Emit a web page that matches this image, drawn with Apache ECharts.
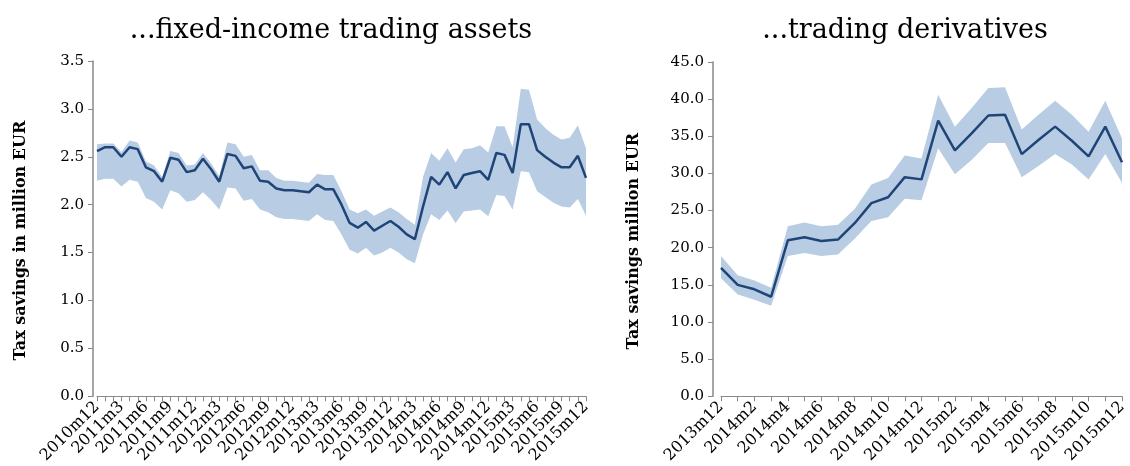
<!DOCTYPE html>
<html>
<head>
<meta charset="utf-8">
<script src="https://cdn.jsdelivr.net/npm/echarts@6/dist/echarts.min.js"></script>
<style>
  html, body { margin: 0; padding: 0; background: #fff; }
  #main { width: 1130px; height: 466px; }
</style>
</head>
<body>
<div id="main"></div>
<script>
// left panel: fixed-income trading assets, 2010m12 - 2015m12
const monthsA = [];
for (let y = 2010, m = 12; y < 2016; ) {
  monthsA.push(y + 'm' + m);
  if (y === 2015 && m === 12) break;
  m++; if (m > 12) { m = 1; y++; }
}
const estA = [2.56, 2.60, 2.60, 2.50, 2.60, 2.58, 2.39, 2.35, 2.24, 2.49, 2.47, 2.34, 2.36,
  2.48, 2.37, 2.24, 2.53, 2.51, 2.38, 2.40, 2.25, 2.24, 2.17, 2.15, 2.15, 2.14, 2.13,
  2.21, 2.16, 2.16, 2.00, 1.81, 1.76, 1.82, 1.73, 1.78, 1.83, 1.77, 1.69, 1.64, 1.98,
  2.29, 2.21, 2.34, 2.17, 2.31, 2.33, 2.35, 2.26, 2.54, 2.52, 2.33, 2.84, 2.84, 2.57,
  2.50, 2.44, 2.39, 2.39, 2.51, 2.28];
const upA = [2.63, 2.64, 2.64, 2.55, 2.67, 2.65, 2.45, 2.41, 2.29, 2.56, 2.54, 2.41, 2.42,
  2.54, 2.43, 2.30, 2.65, 2.63, 2.50, 2.52, 2.36, 2.36, 2.28, 2.25, 2.25, 2.24, 2.23,
  2.32, 2.31, 2.31, 2.14, 1.95, 1.91, 1.95, 1.885, 1.93, 1.97, 1.92, 1.85, 1.79, 2.29,
  2.54, 2.46, 2.59, 2.44, 2.58, 2.59, 2.62, 2.545, 2.82, 2.82, 2.60, 3.21, 3.20, 2.89,
  2.80, 2.73, 2.68, 2.70, 2.83, 2.59];
const loA = [2.25, 2.27, 2.27, 2.19, 2.26, 2.24, 2.07, 2.03, 1.95, 2.15, 2.12, 2.03, 2.05,
  2.13, 2.05, 1.95, 2.18, 2.17, 2.04, 2.06, 1.95, 1.92, 1.87, 1.85, 1.85, 1.84, 1.83,
  1.90, 1.84, 1.83, 1.69, 1.53, 1.49, 1.55, 1.47, 1.50, 1.55, 1.50, 1.43, 1.39, 1.69,
  1.90, 1.84, 1.94, 1.81, 1.93, 1.94, 1.95, 1.88, 2.10, 2.09, 1.95, 2.35, 2.34, 2.14,
  2.08, 2.02, 1.98, 1.97, 2.06, 1.885];

// right panel: trading derivatives, 2013m12 - 2015m12
const monthsB = [];
for (let y = 2013, m = 12; y < 2016; ) {
  monthsB.push(y + 'm' + m);
  if (y === 2015 && m === 12) break;
  m++; if (m > 12) { m = 1; y++; }
}
const estB = [17.3, 15.0, 14.4, 13.4, 21.0, 21.4, 20.9, 21.1, 23.3, 26.0, 26.8, 29.5, 29.2,
  37.1, 33.1, 35.4, 37.8, 37.9, 32.6, 34.5, 36.3, 34.4, 32.3, 36.3, 31.5];
const upB = [18.9, 16.3, 15.6, 14.6, 22.9, 23.4, 22.9, 23.1, 25.2, 28.5, 29.4, 32.4, 32.0,
  40.6, 36.3, 38.8, 41.5, 41.6, 35.9, 37.9, 39.8, 37.9, 35.6, 39.8, 34.7];
const loB = [15.9, 13.7, 13.0, 12.2, 18.9, 19.3, 18.9, 19.1, 21.2, 23.6, 24.1, 26.6, 26.4,
  33.4, 29.9, 31.8, 34.1, 34.1, 29.5, 31.0, 32.6, 31.2, 29.2, 32.6, 28.7];

const FONT = '"DejaVu Serif", serif';
const LINE = '#1f4478';
const BAND = '#b8cde3';

let chartDom = document.getElementById('main');
let myChart = echarts.init(chartDom);

function xAxisCfg(idx, cats, every) {
  return {
    gridIndex: idx,
    type: 'category',
    data: cats,
    boundaryGap: false,
    axisLine: { lineStyle: { color: '#888', width: 1 } },
    axisTick: { show: true, alignWithLabel: true, interval: 0, length: 5, lineStyle: { color: '#888' } },
    axisLabel: {
      interval: every, rotate: 45, color: '#000', fontFamily: FONT, fontSize: 16, margin: 8
    },
    splitLine: { show: false }
  };
}

function yAxisCfg(idx, max, step, name, offset, gap) {
  return {
    gridIndex: idx,
    type: 'value',
    min: 0, max: max, interval: step,
    offset: offset,
    name: name,
    nameLocation: 'middle',
    nameGap: gap,
    nameTextStyle: { fontFamily: FONT, fontSize: 16, fontWeight: 'bold', color: '#000',
      padding: [0, 24, 0, 0] },
    axisLine: { show: true, lineStyle: { color: '#888', width: 1.5 } },
    axisTick: { show: true, length: 5, lineStyle: { color: '#888' } },
    axisLabel: { color: '#000', fontFamily: FONT, fontSize: 15, margin: 9,
      formatter: v => v.toFixed(1) },
    splitLine: { show: false }
  };
}

function band(idx, lo, up, key) {
  return [
    { type: 'line', xAxisIndex: idx, yAxisIndex: idx, data: lo, stack: key,
      symbol: 'none', lineStyle: { opacity: 0 }, silent: true },
    { type: 'line', xAxisIndex: idx, yAxisIndex: idx, data: up.map((u, i) => u - lo[i]), stack: key,
      symbol: 'none', lineStyle: { opacity: 0 }, areaStyle: { color: BAND, opacity: 1 }, silent: true },
  ];
}

function est(idx, data) {
  return { type: 'line', xAxisIndex: idx, yAxisIndex: idx, data: data, symbol: 'none',
    lineStyle: { color: LINE, width: 2.5 }, z: 5 };
}

let option = {
  animation: false,
  backgroundColor: '#fff',
  title: [
    { text: '...fixed-income trading assets', left: 326, top: 12, textAlign: 'center',
      textStyle: { fontFamily: FONT, fontSize: 27, fontWeight: 'normal', color: '#000' } },
    { text: '...trading derivatives', left: 900, top: 12, textAlign: 'center',
      textStyle: { fontFamily: FONT, fontSize: 27, fontWeight: 'normal', color: '#000' } }
  ],
  grid: [
    { left: 97, top: 61, width: 489, height: 336 },
    { left: 721, top: 62, width: 401, height: 335 }
  ],
  xAxis: [xAxisCfg(0, monthsA, 2), xAxisCfg(1, monthsB, 1)],
  yAxis: [
    yAxisCfg(0, 3.5, 0.5, 'Tax savings in million EUR', 4, 64),
    yAxisCfg(1, 45, 5, 'Tax savings million EUR', 8, 71)
  ],
  series: [
    ...band(0, loA, upA, 'a'),
    est(0, estA),
    ...band(1, loB, upB, 'b'),
    est(1, estB)
  ]
};

option && myChart.setOption(option);
</script>
</body>
</html>
